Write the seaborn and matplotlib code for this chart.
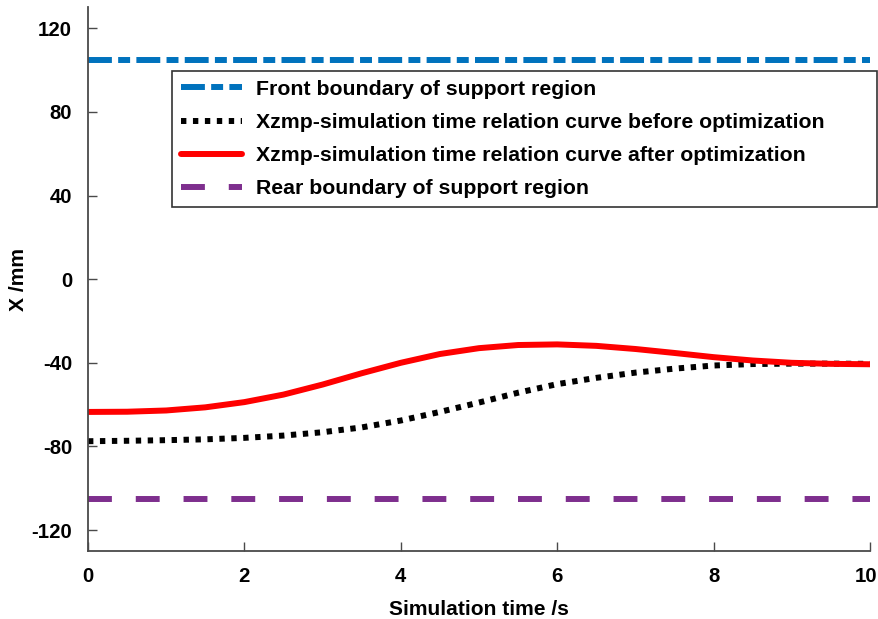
import numpy as np
import pandas as pd
import matplotlib
matplotlib.use("Agg")
import matplotlib.pyplot as plt
import matplotlib.transforms as mtransforms
import seaborn as sns

# Simulation time samples (s)
t = [0, 0.5, 1, 1.5, 2, 2.5, 3, 3.5, 4, 4.5, 5, 5.5, 6, 6.5, 7, 7.5, 8, 8.5, 9, 9.5, 10]

# ZMP x-coordinate before optimization (mm)
x_before = [-77.5, -77.3, -77.0, -76.6, -75.9, -74.8, -73.2, -70.9, -67.6, -63.5, -59.0,
            -54.3, -50.2, -47.2, -44.7, -42.8, -41.3, -40.6, -40.4, -40.4, -40.5]

# ZMP x-coordinate after optimization (mm)
x_after = [-63.5, -63.4, -62.8, -61.3, -58.8, -55.2, -50.4, -45.0, -40.0, -35.8, -33.0,
           -31.5, -31.2, -31.9, -33.4, -35.3, -37.3, -38.9, -40.0, -40.5, -40.7]

# Support region boundaries (mm)
t_bound = [0, 10]
front_bound = [105, 105]
rear_bound = [-105, -105]

labels = [
    "Front boundary of support region",
    "Xzmp-simulation time relation curve before optimization",
    "Xzmp-simulation time relation curve after optimization",
    "Rear boundary of support region",
]

xticks = [0, 2, 4, 6, 8, 10]
yticks = [-120, -80, -40, 0, 40, 80, 120]

sns.set_theme(style="white")
plt.rcParams["font.family"] = ["Liberation Sans", "DejaVu Sans"]
plt.rcParams["font.weight"] = "bold"
plt.rcParams["text.color"] = "black"
plt.rcParams["axes.labelcolor"] = "black"
plt.rcParams["xtick.color"] = "black"
plt.rcParams["ytick.color"] = "black"

W, H = 879, 619
fig = plt.figure(figsize=(W / 100, H / 100), dpi=100)
ax = fig.add_axes([88 / W, 1 - 551 / H, (870 - 88) / W, (551 - 7.3) / H])

lw = 4.3
sns.lineplot(x=t_bound, y=front_bound, ax=ax, color="#0072BD", linewidth=lw,
             linestyle=(0, (4.0, 1.05, 2.0, 1.05)), label=labels[0])
sns.lineplot(x=t, y=x_before, ax=ax, color="black", linewidth=lw,
             linestyle=(0, (0.9, 1.1)), label=labels[1])
sns.lineplot(x=t, y=x_after, ax=ax, color="#FF0000", linewidth=lw,
             linestyle="-", label=labels[2])
sns.lineplot(x=t_bound, y=rear_bound, ax=ax, color="#7E2F8E", linewidth=lw,
             linestyle=(0, (4.0, 4.0)), label=labels[3])

ax.set_xlim(0, 10)
ax.set_ylim(-130, 130)
ax.set_xticks(xticks)
ax.set_yticks(yticks)
ax.set_xticklabels([str(v) for v in xticks])
ax.set_yticklabels([str(v) for v in yticks])

spine_color = "#4a4a4a"
for side in ("top", "right"):
    ax.spines[side].set_visible(False)
for side in ("left", "bottom"):
    ax.spines[side].set_color(spine_color)
    ax.spines[side].set_linewidth(1.3)

tick_fs = 14.7
ax.tick_params(axis="both", which="major", bottom=True, left=True, top=False, right=False,
               direction="in", length=6.5, width=1.0, color=spine_color,
               labelsize=tick_fs, pad=11.5, labelcolor="black")
for lab in ax.get_xticklabels() + ax.get_yticklabels():
    lab.set_fontweight("bold")

# keep the last x tick label inside the canvas
last = ax.get_xticklabels()[-1]
last.set_transform(last.get_transform() +
                   mtransforms.ScaledTranslation(-4 / 100, 0, fig.dpi_scale_trans))

ax.set_xlabel("Simulation time /s", fontsize=15.1, fontweight="bold", labelpad=10)
ax.set_ylabel("X /mm", fontsize=15.1, fontweight="bold", labelpad=2.2)

leg_fs = 15.3
x0, x1 = 171.7 / W, 877 / W
y_top = 1 - 71 / H
leg = ax.legend(loc="upper left", bbox_to_anchor=(x0, y_top - 0.3, x1 - x0, 0.3),
                bbox_transform=fig.transFigure, mode="expand", borderaxespad=0,
                fancybox=False, framealpha=1, edgecolor="#333333",
                prop={"weight": "bold", "size": leg_fs}, handlelength=2.87,
                handletextpad=0.66, labelspacing=0.66, borderpad=0.42)
leg.get_frame().set_linewidth(1.2)

fig.savefig("out.png", dpi=100)
